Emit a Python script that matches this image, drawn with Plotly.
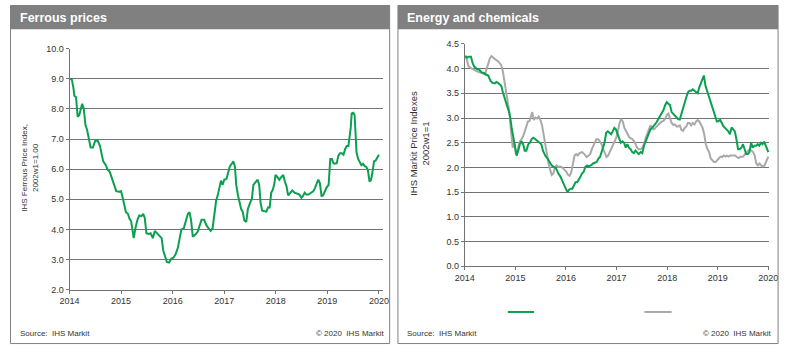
import plotly.graph_objects as go

W, H = 790, 350

# ---------------- data ----------------
year_ticks = [2014, 2015, 2016, 2017, 2018, 2019, 2020]
year_labels = ["2014", "2015", "2016", "2017", "2018", "2019", "2020"]

# Ferrous price index (years since start of 2014, value)
ferrous_t = [0.000, 0.044, 0.075, 0.094, 0.126, 0.157, 0.189, 0.220, 0.245, 0.277, 0.308, 0.340, 0.371, 0.409,
             0.453, 0.497, 0.547, 0.591, 0.623, 0.654, 0.704, 0.736, 0.780, 0.818, 0.862, 0.906, 0.956, 1.000,
             1.031, 1.063, 1.094, 1.132, 1.164, 1.195, 1.220, 1.245, 1.277, 1.314, 1.352, 1.396, 1.428, 1.459,
             1.491, 1.535, 1.572, 1.616, 1.654, 1.698, 1.742, 1.786, 1.818, 1.855, 1.887, 1.931, 1.975, 2.013,
             2.057, 2.101, 2.132, 2.170, 2.214, 2.258, 2.296, 2.327, 2.358, 2.390, 2.434, 2.484, 2.516, 2.560,
             2.610, 2.654, 2.698, 2.736, 2.774, 2.811, 2.843, 2.874, 2.906, 2.937, 2.969, 3.000, 3.044, 3.075,
             3.107, 3.145, 3.176, 3.208, 3.233, 3.264, 3.296, 3.327, 3.358, 3.390, 3.428, 3.459, 3.503, 3.535,
             3.566, 3.610, 3.648, 3.679, 3.704, 3.736, 3.774, 3.818, 3.849, 3.881, 3.912, 3.943, 3.975, 3.994,
             4.025, 4.069, 4.113, 4.145, 4.176, 4.208, 4.239, 4.277, 4.321, 4.365, 4.415, 4.459, 4.497, 4.528,
             4.560, 4.591, 4.635, 4.679, 4.730, 4.761, 4.792, 4.824, 4.855, 4.887, 4.918, 4.950, 4.981, 5.025,
             5.057, 5.088, 5.119, 5.151, 5.182, 5.214, 5.245, 5.283, 5.314, 5.346, 5.377, 5.409, 5.434, 5.453,
             5.472, 5.503, 5.528, 5.547, 5.566, 5.597, 5.629, 5.660, 5.692, 5.723, 5.755, 5.786, 5.818, 5.849,
             5.881, 5.906, 5.937, 5.969, 6.000]
ferrous_v = [9.00, 8.98, 8.70, 8.44, 8.39, 7.74, 7.80, 8.06, 8.17, 8.00, 7.47, 7.31, 6.99, 6.72,
             6.72, 6.94, 6.94, 6.77, 6.50, 6.26, 6.13, 5.99, 5.91, 5.70, 5.48, 5.27, 5.25, 5.27,
             5.05, 4.84, 4.57, 4.52, 4.35, 4.27, 3.98, 3.71, 4.03, 4.30, 4.46, 4.44, 4.52, 4.38,
             3.87, 3.85, 3.87, 3.71, 3.95, 3.87, 3.76, 3.71, 3.30, 3.12, 2.92, 2.90, 3.03, 3.06,
             3.17, 3.39, 3.71, 4.00, 4.03, 4.35, 4.52, 4.57, 4.30, 3.76, 3.82, 3.92, 4.09, 4.32,
             4.32, 4.14, 4.03, 3.95, 4.03, 4.52, 4.95, 5.13, 5.43, 5.62, 5.48, 5.65, 5.68, 5.86,
             6.08, 6.18, 6.26, 6.08, 5.48, 5.16, 4.95, 4.68, 4.59, 4.30, 4.25, 4.68, 4.89, 5.00,
             5.48, 5.59, 5.65, 5.48, 4.89, 4.62, 4.60, 4.59, 4.73, 4.73, 5.22, 5.32, 5.54, 5.81,
             5.75, 5.65, 5.75, 5.81, 5.59, 5.43, 5.13, 5.22, 5.29, 5.22, 5.18, 5.16, 5.05, 5.11,
             5.22, 5.16, 5.16, 5.22, 5.27, 5.38, 5.54, 5.65, 5.54, 5.11, 5.13, 5.27, 5.38, 5.48,
             6.34, 6.34, 6.20, 6.18, 6.20, 6.45, 6.53, 6.53, 6.48, 6.67, 6.77, 6.77, 7.06, 7.37,
             7.85, 7.87, 7.80, 7.15, 6.56, 6.34, 6.24, 6.13, 6.18, 6.10, 6.08, 5.97, 5.59, 5.65,
             5.97, 6.26, 6.29, 6.40, 6.48]

# Energy and chemicals: green series
energy_t = [0.013, 0.045, 0.077, 0.122, 0.155, 0.187, 0.238, 0.283, 0.335, 0.380, 0.419, 0.464, 0.509, 0.547,
            0.592, 0.625, 0.657, 0.689, 0.721, 0.753, 0.786, 0.831, 0.863, 0.895, 0.927, 0.959, 0.992, 1.024,
            1.056, 1.088, 1.120, 1.153, 1.185, 1.217, 1.256, 1.288, 1.320, 1.352, 1.397, 1.442, 1.481, 1.513,
            1.545, 1.590, 1.636, 1.674, 1.719, 1.764, 1.803, 1.848, 1.893, 1.932, 1.964, 1.996, 2.028, 2.061,
            2.093, 2.125, 2.157, 2.189, 2.222, 2.254, 2.286, 2.318, 2.350, 2.382, 2.415, 2.447, 2.492, 2.537,
            2.576, 2.608, 2.640, 2.672, 2.704, 2.730, 2.762, 2.795, 2.827, 2.859, 2.891, 2.923, 2.956, 2.988,
            3.020, 3.052, 3.084, 3.117, 3.149, 3.181, 3.213, 3.245, 3.278, 3.310, 3.342, 3.374, 3.406, 3.438,
            3.477, 3.509, 3.542, 3.574, 3.606, 3.638, 3.670, 3.703, 3.735, 3.767, 3.799, 3.831, 3.863, 3.896,
            3.928, 3.960, 3.992, 4.024, 4.057, 4.089, 4.121, 4.153, 4.185, 4.217, 4.250, 4.282, 4.314, 4.346,
            4.379, 4.411, 4.443, 4.475, 4.507, 4.540, 4.572, 4.604, 4.636, 4.668, 4.701, 4.726, 4.758, 4.791,
            4.823, 4.855, 4.887, 4.920, 4.952, 4.984, 5.016, 5.048, 5.081, 5.113, 5.145, 5.177, 5.209, 5.241,
            5.274, 5.306, 5.338, 5.370, 5.402, 5.435, 5.467, 5.499, 5.531, 5.563, 5.596, 5.628, 5.660, 5.692,
            5.724, 5.757, 5.789, 5.821, 5.853, 5.886, 5.918, 5.950, 5.982, 6.000]
energy_v = [4.25, 4.22, 4.24, 4.24, 4.11, 4.04, 3.99, 3.98, 3.92, 3.91, 3.88, 3.86, 3.75, 3.71,
            3.70, 3.73, 3.71, 3.68, 3.65, 3.52, 3.39, 3.26, 3.16, 3.03, 2.80, 2.60, 2.44, 2.24,
            2.34, 2.47, 2.53, 2.47, 2.34, 2.34, 2.47, 2.50, 2.57, 2.60, 2.57, 2.53, 2.50, 2.47,
            2.34, 2.24, 2.18, 2.12, 2.04, 2.01, 1.98, 1.88, 1.81, 1.72, 1.65, 1.59, 1.50, 1.55,
            1.57, 1.57, 1.65, 1.70, 1.70, 1.75, 1.81, 1.88, 1.91, 2.01, 2.04, 2.02, 2.04, 2.08,
            2.09, 2.11, 2.18, 2.21, 2.31, 2.40, 2.50, 2.70, 2.73, 2.70, 2.67, 2.73, 2.80, 2.77,
            2.67, 2.57, 2.50, 2.53, 2.50, 2.40, 2.47, 2.40, 2.37, 2.31, 2.29, 2.34, 2.31, 2.27,
            2.31, 2.29, 2.44, 2.53, 2.60, 2.67, 2.77, 2.80, 2.83, 2.88, 2.93, 2.99, 3.06, 3.12,
            3.16, 3.26, 3.32, 3.29, 3.26, 3.12, 3.09, 3.06, 3.01, 2.98, 2.97, 3.09, 3.22, 3.32,
            3.42, 3.52, 3.55, 3.55, 3.58, 3.55, 3.52, 3.50, 3.62, 3.71, 3.78, 3.86, 3.65, 3.55,
            3.45, 3.35, 3.22, 3.12, 3.06, 2.93, 2.94, 2.96, 2.90, 2.83, 2.80, 2.77, 2.73, 2.67,
            2.81, 2.77, 2.73, 2.57, 2.37, 2.37, 2.40, 2.47, 2.34, 2.27, 2.27, 2.31, 2.50, 2.40,
            2.44, 2.44, 2.47, 2.44, 2.50, 2.47, 2.52, 2.44, 2.34, 2.31]

# Energy and chemicals: grey series
chem_t = [0.013, 0.045, 0.077, 0.122, 0.155, 0.206, 0.251, 0.303, 0.348, 0.399, 0.431, 0.464, 0.496, 0.528,
          0.560, 0.592, 0.625, 0.657, 0.689, 0.721, 0.753, 0.786, 0.818, 0.850, 0.882, 0.914, 0.947, 0.979,
          1.011, 1.043, 1.088, 1.120, 1.153, 1.185, 1.217, 1.249, 1.281, 1.314, 1.333, 1.365, 1.397, 1.430,
          1.462, 1.494, 1.526, 1.558, 1.590, 1.623, 1.655, 1.687, 1.719, 1.751, 1.784, 1.816, 1.848, 1.880,
          1.912, 1.945, 1.977, 2.009, 2.041, 2.073, 2.106, 2.138, 2.170, 2.202, 2.234, 2.267, 2.318, 2.363,
          2.408, 2.447, 2.479, 2.511, 2.556, 2.601, 2.640, 2.672, 2.704, 2.737, 2.769, 2.801, 2.833, 2.865,
          2.898, 2.930, 2.962, 2.994, 3.026, 3.059, 3.091, 3.123, 3.155, 3.187, 3.220, 3.252, 3.284, 3.316,
          3.348, 3.381, 3.413, 3.445, 3.477, 3.509, 3.542, 3.574, 3.606, 3.638, 3.670, 3.703, 3.735, 3.767,
          3.799, 3.831, 3.863, 3.896, 3.928, 3.960, 3.992, 4.024, 4.057, 4.089, 4.121, 4.153, 4.185, 4.217,
          4.250, 4.282, 4.314, 4.346, 4.379, 4.411, 4.443, 4.475, 4.507, 4.540, 4.572, 4.604, 4.636, 4.668,
          4.701, 4.733, 4.765, 4.797, 4.829, 4.862, 4.894, 4.926, 4.958, 4.990, 5.023, 5.055, 5.087, 5.119,
          5.151, 5.183, 5.216, 5.248, 5.280, 5.312, 5.344, 5.377, 5.409, 5.441, 5.473, 5.505, 5.538, 5.570,
          5.602, 5.634, 5.666, 5.699, 5.731, 5.763, 5.795, 5.827, 5.860, 5.892, 5.924, 5.956, 5.988, 6.000]
chem_v = [4.27, 4.14, 4.04, 4.01, 3.99, 3.96, 3.94, 3.92, 3.91, 3.88, 3.98, 4.11, 4.21, 4.25,
          4.22, 4.19, 4.17, 4.15, 4.11, 4.07, 3.94, 3.75, 3.55, 3.32, 3.12, 2.73, 2.40, 2.50,
          2.27, 2.34, 2.53, 2.57, 2.63, 2.73, 2.83, 2.93, 2.94, 3.03, 3.12, 2.96, 3.01, 2.99,
          3.03, 2.96, 2.86, 2.67, 2.47, 2.24, 2.08, 1.95, 1.85, 1.88, 2.01, 2.04, 2.01, 2.02,
          2.01, 1.98, 1.95, 1.91, 1.85, 1.83, 1.91, 2.08, 2.24, 2.27, 2.24, 2.29, 2.31, 2.27,
          2.21, 2.24, 2.27, 2.37, 2.47, 2.57, 2.57, 2.53, 2.47, 2.37, 2.27, 2.21, 2.24, 2.31,
          2.37, 2.44, 2.50, 2.60, 2.73, 2.90, 2.98, 2.93, 2.80, 2.73, 2.65, 2.61, 2.59, 2.57,
          2.53, 2.47, 2.39, 2.37, 2.37, 2.40, 2.47, 2.59, 2.67, 2.77, 2.85, 2.80, 2.77, 2.80,
          2.84, 2.86, 2.90, 2.93, 2.94, 2.98, 3.06, 3.09, 2.98, 2.90, 2.86, 2.87, 2.83, 2.83,
          2.85, 2.76, 2.74, 2.80, 2.83, 2.90, 2.90, 2.85, 2.90, 2.87, 2.93, 2.96, 2.93, 2.86,
          2.80, 2.67, 2.47, 2.37, 2.31, 2.18, 2.14, 2.11, 2.11, 2.14, 2.18, 2.22, 2.21, 2.24,
          2.22, 2.24, 2.22, 2.24, 2.24, 2.24, 2.24, 2.21, 2.19, 2.21, 2.21, 2.22, 2.27, 2.31,
          2.34, 2.37, 2.34, 2.31, 2.24, 2.08, 2.04, 2.08, 2.04, 2.02, 2.04, 2.11, 2.21, 2.22]

left_title = "Ferrous prices"
right_title = "Energy and chemicals"
left_ytitle = "IHS Ferrous Price Index,<br>2002w1=1.00"
right_ytitle = "IHS Markit Price Indexes<br>2002w1=1"
source_text = "Source:  IHS Markit"
copy_text = "\u00a9 2020  IHS Markit"

# ---------------- styling helpers ----------------
GREEN = "#0aa04f"
GREY = "#a9a9a9"
GRID = "#737373"
PANEL = "#808080"
TXT = "#333333"
FONT = "Liberation Sans, Arial, sans-serif"


def px(x):
    return x / W


def py(y):
    return 1 - y / H


fig = go.Figure()

fig.add_trace(go.Scatter(x=[2014 + t for t in ferrous_t], y=ferrous_v, mode="lines",
                         line=dict(color=GREEN, width=2), xaxis="x", yaxis="y",
                         showlegend=False, hoverinfo="skip"))
fig.add_trace(go.Scatter(x=[2014 + t for t in chem_t], y=chem_v, mode="lines",
                         line=dict(color=GREY, width=2), xaxis="x2", yaxis="y2",
                         showlegend=False, hoverinfo="skip"))
fig.add_trace(go.Scatter(x=[2014 + t for t in energy_t], y=energy_v, mode="lines",
                         line=dict(color=GREEN, width=2), xaxis="x2", yaxis="y2",
                         showlegend=False, hoverinfo="skip"))

tickfont = dict(family=FONT, size=9, color=TXT)

xcommon = dict(tickmode="array", tickvals=year_ticks, ticktext=year_labels, showgrid=False,
               zeroline=False, showline=True, linecolor=GRID, linewidth=1, ticks="outside",
               ticklen=3, tickcolor=GRID, tickfont=tickfont, fixedrange=True)
ycommon = dict(showgrid=True, gridcolor=GRID, gridwidth=1, zeroline=False, showline=True,
               linecolor=GRID, linewidth=1, ticks="outside", ticklen=3, tickcolor=GRID,
               tickfont=tickfont, fixedrange=True)

fig.update_layout(
    width=W, height=H, margin=dict(l=0, r=0, t=0, b=0),
    paper_bgcolor="white", plot_bgcolor="white",
    showlegend=False,
    xaxis=dict(domain=[px(61), px(382)], range=[2014, 2014 + 6 * 321 / 317],
               anchor="y", **xcommon),
    yaxis=dict(domain=[py(293), py(45)], range=[2, 10], dtick=1, tickformat=".1f",
               anchor="x", **ycommon),
    xaxis2=dict(domain=[px(466), px(778)], range=[2014, 2014 + 6 * 312 / 311],
                anchor="y2", **xcommon),
    yaxis2=dict(domain=[py(269), py(40)], range=[0, 4.5], dtick=0.5, tickformat=".1f",
                anchor="x2", **ycommon),
)

shapes = []
annotations = []
for (x0, x1, title, ytitle, ytx, yty, ysize, copy_x) in [
        (0.5, 389, left_title, left_ytitle, 20, 168, 8, 385),
        (397.5, 787, right_title, right_ytitle, 420, 142, 9.5, 782)]:
    # title bar
    shapes.append(dict(type="rect", xref="paper", yref="paper",
                       x0=px(x0), x1=px(x1), y0=py(25), y1=py(0),
                       fillcolor=PANEL, line=dict(width=0), layer="below"))
    # panel border
    shapes.append(dict(type="rect", xref="paper", yref="paper",
                       x0=px(x0), x1=px(x1), y0=py(348.5), y1=py(0.5),
                       fillcolor="rgba(0,0,0,0)", line=dict(color=PANEL, width=1)))
    annotations.append(dict(text="<b>" + title + "</b>", xref="paper", yref="paper",
                            x=px(x0 + 7.5), y=py(13), xanchor="left", yanchor="middle",
                            showarrow=False, font=dict(family=FONT, size=12.5, color="white")))
    annotations.append(dict(text=ytitle, xref="paper", yref="paper", x=px(ytx), y=py(yty),
                            xanchor="center", yanchor="middle", textangle=-90, showarrow=False,
                            font=dict(family=FONT, size=ysize, color=TXT)))
    annotations.append(dict(text=source_text, xref="paper", yref="paper", x=px(x0 + 7.5),
                            y=py(338), xanchor="left", yanchor="middle", showarrow=False,
                            font=dict(family=FONT, size=8, color=TXT)))
    annotations.append(dict(text=copy_text, xref="paper", yref="paper", x=px(copy_x),
                            y=py(338), xanchor="right", yanchor="middle", showarrow=False,
                            font=dict(family=FONT, size=8, color=TXT)))

# legend swatches (right panel)
shapes.append(dict(type="line", xref="paper", yref="paper", x0=px(510), x1=px(537),
                   y0=py(316), y1=py(316), line=dict(color=GREEN, width=2)))
shapes.append(dict(type="line", xref="paper", yref="paper", x0=px(650), x1=px(678),
                   y0=py(316), y1=py(316), line=dict(color=GREY, width=2)))

fig.update_layout(shapes=shapes, annotations=annotations)

fig.write_html("out.html", config={"displayModeBar": False})
